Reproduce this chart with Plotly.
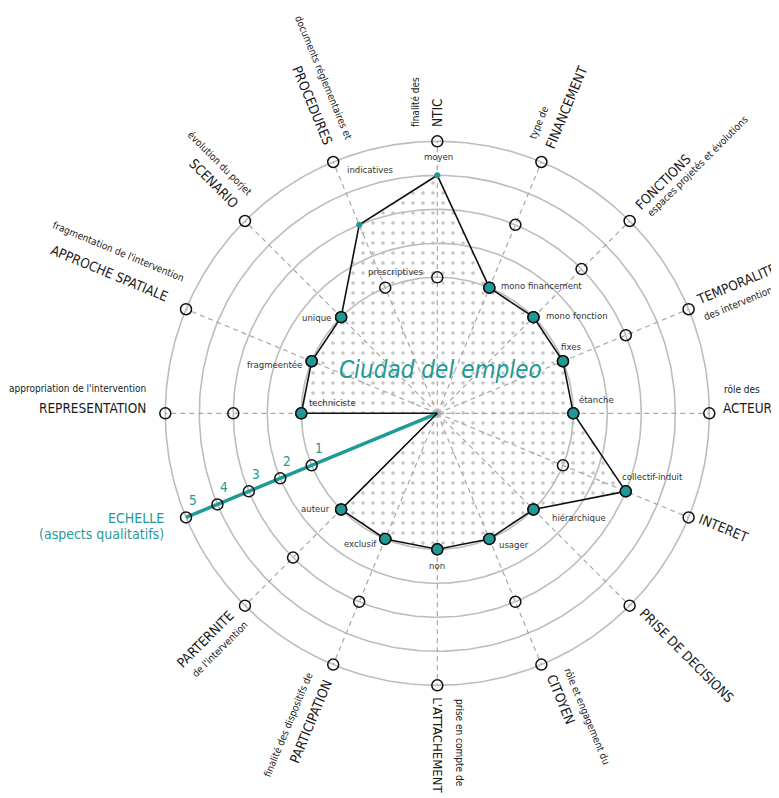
import numpy as np
import plotly.graph_objects as go

# axes of the radar, clockwise from the top
axes_names = ['NTIC', 'FINANCEMENT', 'FONCTIONS', 'TEMPORALITE', 'ACTEURS', 'INTERET',
              'PRISE DE DECISIONS', 'CITOYEN', "L'ATTACHEMENT", 'PARTICIPATION', 'PARTERNITE',
              'ECHELLE', 'REPRESENTATION', 'APPROCHE SPATIALE', 'SCENARIO', 'PROCEDURES']
axis_angles = [90, 67.5, 45, 22.5, 0, -22.5, -45, -67.5, -90, -112.5, -135, -157.5,
               180, 157.5, 135, 112.5]
# levels where each axis has an option circle
choice_levels = [[1, 5], [1, 3, 5], [1, 3, 5], [1, 3, 5], [1, 5], [1, 3, 5],
                 [1, 5], [1, 3, 5], [1, 5], [1, 3, 5], [1, 3, 5], [1, 2, 3, 4, 5],
                 [1, 3, 5], [1, 5], [1, 5], [1, 5]]
# value of "Ciudad del empleo" on each axis (0 = centre)
values = [4, 1, 1, 1, 1, 3, 1, 1, 1, 1, 1, 0, 1, 1, 1, 3]
ring_levels = [1, 2, 3, 4, 5]
echelle_ticks = ['1', '2', '3', '4', '5']

TEAL = '#1f9a96'
GREY = '#bdbdbd'
cx, cy, unit = 437.3, 413.3, 34.0


def radius(level):
    return 0.0 if level == 0 else unit * (level + 3)


def pos(level, ang):
    r = radius(level)
    a = np.radians(ang)
    return cx + r * np.cos(a), cy - r * np.sin(a)


fig = go.Figure()

# filled shape
px, py = zip(*[pos(v, a) for v, a in zip(values, axis_angles)])
px, py = list(px) + [px[0]], list(py) + [py[0]]
fig.add_trace(go.Scatter(x=px, y=py, mode='none', fill='toself',
                         fillcolor='rgba(255,255,255,0)',
                         fillpattern=dict(shape='.', size=10, solidity=0.1,
                                          fgcolor='#c4c4c4', fgopacity=1),
                         hoverinfo='skip'))

# rings
t = np.linspace(0, 360, 361)
for lv in ring_levels:
    rx, ry = zip(*[pos(lv, a) for a in t])
    fig.add_trace(go.Scatter(x=rx, y=ry, mode='lines', line=dict(color=GREY, width=1.6),
                             hoverinfo='skip'))

# spokes
for name, a in zip(axes_names, axis_angles):
    if name == 'ECHELLE':
        continue
    x1, y1 = pos(5, a)
    fig.add_trace(go.Scatter(x=[cx, x1], y=[cy, y1], mode='lines',
                             line=dict(color='#a8a8a8', width=1.2, dash='5px,4px'),
                             hoverinfo='skip'))

# echelle axis
ex, ey = pos(5, axis_angles[axes_names.index('ECHELLE')])
fig.add_trace(go.Scatter(x=[cx, ex], y=[cy, ey], mode='lines',
                         line=dict(color=TEAL, width=3.5), hoverinfo='skip'))

# outline
fig.add_trace(go.Scatter(x=px, y=py, mode='lines', line=dict(color='#111111', width=1.6),
                         hoverinfo='skip'))

# option circles
ox, oy = [], []
for lvls, a in zip(choice_levels, axis_angles):
    for lv in lvls:
        x, y = pos(lv, a)
        ox.append(x)
        oy.append(y)
fig.add_trace(go.Scatter(x=ox, y=oy, mode='markers',
                         marker=dict(symbol='circle-open', size=11, color='#111111',
                                     line=dict(width=1.5)),
                         hoverinfo='skip'))

# chosen values
hx, hy, dx, dy = [], [], [], []
for v, lvls, a in zip(values, choice_levels, axis_angles):
    if v == 0:
        continue
    x, y = pos(v, a)
    if v in lvls:
        hx.append(x)
        hy.append(y)
    else:
        dx.append(x)
        dy.append(y)
fig.add_trace(go.Scatter(x=hx, y=hy, mode='markers',
                         marker=dict(symbol='circle', size=11, color=TEAL,
                                     line=dict(color='#111111', width=1.5)),
                         hoverinfo='skip'))
fig.add_trace(go.Scatter(x=dx, y=dy, mode='markers',
                         marker=dict(symbol='circle', size=6, color=TEAL),
                         hoverinfo='skip'))

ann = []
FONT = 'DejaVu Sans Condensed, Roboto'


def txt(s, x, y, size, angle=0, color='#1a1a1a', xanchor='center', italic=False):
    ann.append(dict(text=s, x=x, y=y, xref='x', yref='y', showarrow=False,
                    textangle=angle, xanchor=xanchor, yanchor='middle',
                    font=dict(family=FONT, size=size, color=color,
                              style='italic' if italic else 'normal')))


# axis titles (big) and subtitles (small)
big = 13.5
small = 10
txt('documents réglementaires et', 323.5, 77.5, small, 67.5)
txt('PROCEDURES', 312.5, 105, big, 67.5)
txt('évolution du porjet', 220, 163.5, small, 45)
txt('SCENARIO', 214, 182.5, big, 45)
txt("fragmentation de l'intervention", 118.5, 251, small, 22.5)
txt('APPROCHE SPATIALE', 109.5, 272.5, big, 22.5)
txt("appropriation de l'intervention", 148, 388, small, 0, xanchor='right')
txt('REPRESENTATION', 148, 408, big, 0, xanchor='right')
txt('ECHELLE', 166, 518, 14, 0, color=TEAL, xanchor='right')
txt('(aspects qualitatifs)', 166, 534, 14, 0, color=TEAL, xanchor='right')
txt('PARTERNITE', 205, 638.5, big, -45)
txt("de l'intervention", 219.5, 649.5, small, -45)
txt('finalité des dispositifs de', 287.5, 725, small, -67.5)
txt('PARTICIPATION', 310, 721.5, big, -67.5)
txt("L'ATTACHEMENT", 437.7, 745, 13, 90)
txt('prise en compte de', 460, 743, small, 90)
txt('CITOYEN', 561, 699, big, 67.5)
txt('rôle et engagement du', 587.5, 716, small, 67.5)
txt('PRISE DE DECISIONS', 686.5, 655, big, 45)
txt('INTERET', 724, 527.5, big, 22.5)
txt('rôle des', 722, 389, small, 0, xanchor='left')
txt('ACTEURS', 721, 408, big, 0, xanchor='left')
txt('TEMPORALITE', 736, 284, big, -22.5)
txt('des interventions', 740, 302, small, -22.5)
txt('FONCTIONS', 662.5, 181.7, big, -45)
txt('espaces projetés et évolutions', 698.3, 165.8, small, -45)
txt('FINANCEMENT', 565.5, 107.5, big, -67.5)
txt('type de', 538.5, 122, small, -67.5)
txt('NTIC', 437, 113, big, -90)
txt('finalité des', 415, 102, small, -90)

# option labels
option_labels = {
    'indicatives': (370, 169), 'moyen': (438, 156), 'prescriptives': (395, 271),
    'mono financement': (541, 285), 'mono fonction': (577, 315), 'fixes': (571, 346),
    'étanche': (596, 399), 'collectif-induit': (652, 476), 'hiérarchique': (579, 517),
    'usager': (514, 544), 'non': (437, 565), 'exclusif': (360, 543), 'auteur': (315, 508),
    'techniciste': (332, 402), 'fragmeentée': (274, 364), 'unique': (316, 317),
}
for s, (x, y) in option_labels.items():
    txt(s, x, y, 9.5, 0, color='#333333')

# echelle numbers
for lv, s in zip(ring_levels, echelle_ticks):
    x, y = pos(lv, axis_angles[axes_names.index('ECHELLE')])
    txt(s, x + 7, y - 17, 13.5, 0, color=TEAL)

txt('Ciudad del empleo', 440, 370, 24, 0, color=TEAL, italic=True)

# the page adds an 8px body margin, so the ranges are shifted to keep
# the coordinates above equal to screen pixels
fig.update_layout(
    width=779, height=798, margin=dict(l=0, r=0, t=0, b=0),
    paper_bgcolor='white', plot_bgcolor='white', showlegend=False,
    xaxis=dict(range=[8, 787], visible=False, fixedrange=True),
    yaxis=dict(range=[806, 8], visible=False, fixedrange=True),
    annotations=ann,
)

fig.write_html('out.html')
